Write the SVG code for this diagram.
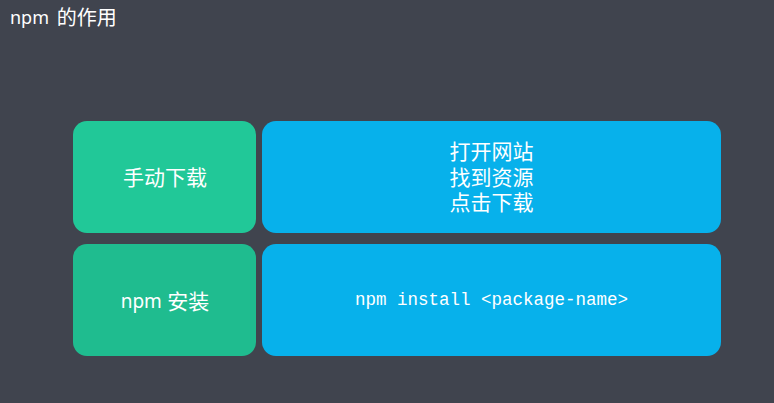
<svg xmlns="http://www.w3.org/2000/svg" width="774" height="403" viewBox="0 0 774 403">
<style>
.t{font-family:"Noto Sans","Noto Sans CJK SC",sans-serif;fill:#fff;}
.c{text-anchor:middle;dominant-baseline:central;font-size:21px;}
.m{font-family:"Liberation Mono","Noto Sans CJK SC",monospace;fill:#fff;font-size:17.5px;text-anchor:middle;dominant-baseline:central;}
</style>
<rect width="774" height="403" fill="#40444E"/>
<text class="t" x="10" y="16.5" font-size="18" dominant-baseline="central">npm <tspan font-size="20" dx="3">的作用</tspan></text>
<g id="manual">
<rect x="73" y="121" width="183" height="112" rx="14" fill="#21C898"/>
<text class="t c" x="165" y="177">手动下载</text>
</g>
<g id="manual-steps">
<rect x="262" y="121" width="459" height="112" rx="14" fill="#07B1EB"/>
<text class="t c" x="491.5" y="151">打开网站</text>
<text class="t c" x="491.5" y="176.5">找到资源</text>
<text class="t c" x="491.5" y="202">点击下载</text>
</g>
<g id="npm">
<rect x="73" y="244" width="183" height="112" rx="14" fill="#1FBC8F"/>
<text class="t c" x="165" y="301"><tspan font-size="19">npm</tspan> 安装</text>
</g>
<g id="npm-cmd">
<rect x="262" y="244" width="459" height="112" rx="14" fill="#07B1EB"/>
<text class="m" x="491.5" y="300">npm install &lt;package-name&gt;</text>
</g>
<g id="connectors"/>
</svg>
